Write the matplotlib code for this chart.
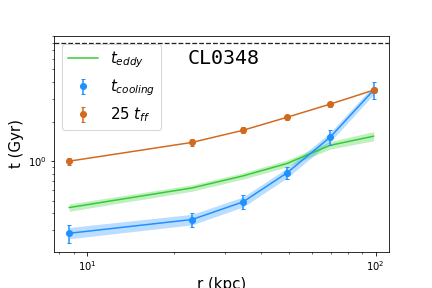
import numpy as np
import matplotlib
matplotlib.use('Agg')
import matplotlib.pyplot as plt

# radii (kpc)
r = [8.67, 23.1, 34.7, 49.3, 69.5, 98.4]

# eddy turnover time with band
t_eddy = [0.443, 0.625, 0.772, 0.96, 1.32, 1.55]
t_eddy_lo = [0.415, 0.59, 0.73, 0.905, 1.235, 1.43]
t_eddy_hi = [0.472, 0.66, 0.815, 1.02, 1.41, 1.68]

# cooling time, error bars and band
t_cool = [0.282, 0.359, 0.489, 0.814, 1.52, 3.48]
t_cool_err = [0.045, 0.045, 0.06, 0.085, 0.2, 0.5]
t_cool_lo = [0.256, 0.327, 0.447, 0.745, 1.40, 3.22]
t_cool_hi = [0.312, 0.393, 0.533, 0.885, 1.65, 3.76]

# 25 x free-fall time
t_ff25 = [1.0, 1.39, 1.72, 2.16, 2.72, 3.48]
t_ff25_err = [0.06, 0.08, 0.09, 0.1, 0.12, 0.16]

t_max = 7.9
cluster = 'CL0348'


def main():
    fig = plt.figure(figsize=(6, 4), dpi=72)
    ax = fig.add_axes([0.125, 0.125, 0.775, 0.75])

    ax.plot(r, t_eddy, color='limegreen', lw=1.5, label='$t_{eddy}$')
    ax.fill_between(r, t_eddy_lo, t_eddy_hi, color='limegreen', alpha=0.3, lw=0)

    ax.plot(r, t_cool, color='dodgerblue', lw=1.5)
    ax.errorbar(r, t_cool, yerr=t_cool_err, fmt='o', color='dodgerblue',
                capsize=2, ms=6, label='$t_{cooling}$')
    ax.fill_between(r, t_cool_lo, t_cool_hi, color='dodgerblue', alpha=0.3, lw=0)

    ax.plot(r, t_ff25, color='chocolate', lw=1.5)
    ax.errorbar(r, t_ff25, yerr=t_ff25_err, fmt='o', color='chocolate',
                capsize=2, ms=6, label='25 $t_{ff}$')

    ax.axhline(t_max, color='#222222', ls='--', lw=1.3)

    ax.set_xscale('log')
    ax.set_yscale('log')
    ax.set_ylim(0.203, 9.0)
    ax.set_xlabel('r (kpc)', fontsize=15)
    ax.set_ylabel('t (Gyr)', fontsize=15)
    ax.text(0.4, 0.87, cluster, transform=ax.transAxes, fontsize=20,
            family='monospace')
    ax.legend(loc='upper left', fontsize=15)

    fig.savefig('out.png', dpi=72)


if __name__ == "__main__":
    main()
